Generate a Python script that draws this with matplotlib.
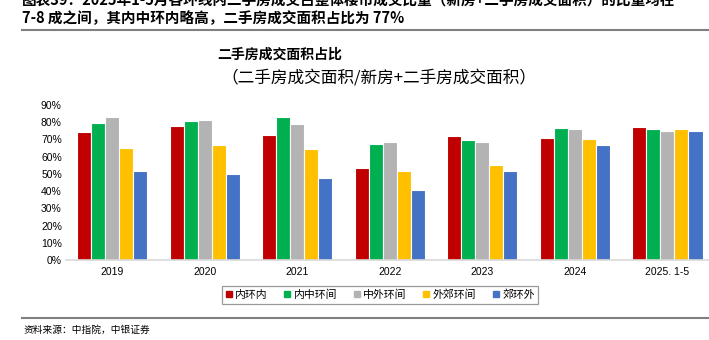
import numpy as np
import matplotlib.pyplot as plt
from matplotlib.lines import Line2D

plt.rcParams['font.family'] = ['Noto Sans CJK SC', 'DejaVu Sans']

# ==============================
# DATA
# ==============================
years = ['2019', '2020', '2021', '2022', '2023', '2024', '2025. 1-5']
series_names = ['内环内', '内中环间', '中外环间', '外郊环间', '郊环外']
inner = [74.2, 77.7, 72.5, 53.3, 72.1, 70.7, 77.1]
inner_mid = [79.8, 80.8, 83.3, 67.4, 69.4, 76.7, 76.0]
mid_outer = [83.0, 81.4, 79.0, 68.6, 68.6, 75.8, 74.8]
outer_sub = [65.0, 67.0, 64.3, 51.9, 55.2, 70.3, 76.3]
suburb = [51.7, 50.2, 47.8, 40.7, 51.6, 66.9, 74.8]
colors = ['#C00000', '#00B050', '#B3B3B3', '#FFC000', '#4472C4']

values = [inner, inner_mid, mid_outer, outer_sub, suburb]

# ==============================
# FIGURE
# ==============================
fig = plt.figure(figsize=(7.09, 3.40), dpi=100)
W, H = 709, 340

ax = fig.add_axes([66 / W, 1 - 260 / H, 1 - 66 / W, (260 - 105) / H])

x = np.arange(len(years))
bw = 0.152
for i, (vals, c) in enumerate(zip(values, colors)):
    ax.bar(x + (i - 2) * bw, np.array(vals) / 100, width=bw, color=c,
           edgecolor='white', linewidth=0.8, label=series_names[i], zorder=2)

ax.set_ylim(0, 0.9)
ax.set_xlim(-0.5, 6.45)
ax.set_yticks(np.arange(0, 0.91, 0.1))
ax.set_yticklabels([f'{int(round(v * 100))}%' for v in np.arange(0, 0.91, 0.1)],
                   family='Liberation Sans', fontsize=7.5)
ax.set_xticks(x)
ax.set_xticklabels(years, family='Liberation Sans', fontsize=7.5)
ax.tick_params(length=0, pad=3)
ax.tick_params(axis='x', pad=5)
for s in ['top', 'right', 'left']:
    ax.spines[s].set_visible(False)
ax.spines['bottom'].set_color('#D9D9D9')
ax.spines['bottom'].set_linewidth(1.2)

# legend
handles = [Line2D([0], [0], marker='s', linestyle='', markersize=4,
                  markerfacecolor=c, markeredgecolor=c) for c in colors]
leg = fig.legend(handles, series_names, loc='center', ncol=5,
                 bbox_to_anchor=(380 / W, 1 - 295 / H), fontsize=7.8,
                 frameon=True, fancybox=False, edgecolor='#808080',
                 handlelength=0.6, handletextpad=0.3, columnspacing=1.5,
                 borderpad=0.3)
leg.get_frame().set_linewidth(0.9)

# ==============================
# TEXTS
# ==============================
fig.text(22 / W, 1 - 1 / H,
         '图表39：2025年1-5月各环线内二手房成交占整体楼市成交比重（新房+二手房成交面积）的比重均在',
         fontsize=10.5, fontweight='bold', va='center', ha='left')
fig.text(22 / W, 1 - 18 / H, '7-8 成之间，其内中环内略高，二手房成交面积占比为 77%',
         fontsize=10.5, fontweight='bold', va='center', ha='left')
fig.add_artist(Line2D([22 / W, 1], [1 - 30 / H, 1 - 30 / H], color='#808080', lw=1.5))

fig.text(280 / W, 1 - 55 / H, '二手房成交面积占比', fontsize=10, fontweight='bold',
         ha='center', va='center')
fig.text(379 / W, 1 - 78 / H, '（二手房成交面积/新房+二手房成交面积）', fontsize=12,
         ha='center', va='center')

fig.add_artist(Line2D([22 / W, 1], [1 - 318 / H, 1 - 318 / H], color='#808080', lw=1.5))
fig.text(24 / W, 1 - 330 / H, '资料来源：中指院，中银证券', fontsize=7, style='italic',
         ha='left', va='center')

fig.savefig('out.png', dpi=100)
